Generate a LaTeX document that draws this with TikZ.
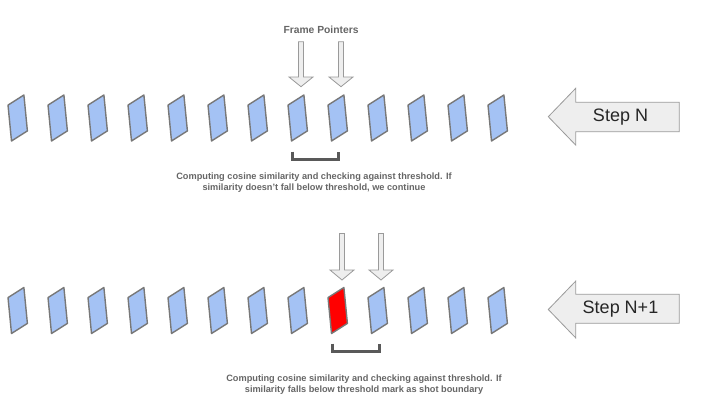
\documentclass[tikz,border=0pt]{standalone}
\usepackage{fontspec}
\setmainfont{Liberation Sans}
\definecolor{frameblue}{HTML}{A4C2F4}
\definecolor{framered}{HTML}{FF0000}
\definecolor{frameedge}{HTML}{787878}
\definecolor{arrowfill}{HTML}{EEEEEE}
\definecolor{arrowedge}{HTML}{9A9A9A}
\definecolor{bracketcol}{HTML}{595959}
\definecolor{captioncol}{HTML}{666666}
\tikzset{
  framebox/.style={draw=frameedge, line width=1.4pt, fill=frameblue, line join=round},
  redbox/.style={framebox, fill=framered},
  blockarrow/.style={draw=arrowedge, line width=0.8pt, fill=arrowfill, line join=miter},
  bracketline/.style={draw=bracketcol, line width=3pt},
  captiontext/.style={text=captioncol, font=\bfseries\fontsize{9.2}{11}\selectfont, align=center, inner sep=0pt},
  steptext/.style={text=black!85, font=\fontsize{18}{20}\selectfont, inner sep=0pt},
}
\begin{document}
\begin{tikzpicture}[x=1pt,y=-1pt]
\useasboundingbox (0,0) rectangle (711,404);
\fill[white] (0,0) rectangle (711,404);

% ---------- Row 1 ----------
\foreach \i in {0,...,12} {
  \coordinate (r1f\i) at ({17.7+40*\i},118);
  \draw[framebox, shift={(r1f\i)}] (-9.7,-12.9) -- (6.2,-23) -- (9.7,12.9) -- (-6.2,23) -- cycle;
}
\node[text=captioncol, font=\bfseries\fontsize{10.3}{12}\selectfont, inner sep=0pt] (fp) at (321,30) {Frame Pointers};
\foreach \n/\cx in {p1/301, p2/341} {
  \coordinate (\n) at (\cx,41.7);
  \draw[blockarrow, shift={(\n)}] (-2.5,0) -- (2.5,0) -- (2.5,35.3) -- (12,35.3) -- (0,45) -- (-12,35.3) -- (-2.5,35.3) -- cycle;
}
\coordinate (b1a) at (292.3,151.5);
\coordinate (b1b) at (338.7,151.5);
\draw[bracketline] (b1a) -- ++(0,7.7) -| (b1b);
\node[captiontext] (cap1) at (314,182.5) {Computing cosine similarity and checking against threshold. If\\similarity doesn't fall below threshold, we continue};

\coordinate (s1) at (548.3,116.7);
\draw[blockarrow, shift={(s1)}] (0,0) -- (27.4,-28.4) -- (27.4,-14.4) -- (131,-14.4) -- (131,15) -- (27.4,15) -- (27.4,28.4) -- cycle;
\node[steptext] (stepn) at (620.5,117) {Step N};

% ---------- Row 2 ----------
\foreach \i in {0,...,12} {
  \coordinate (r2f\i) at ({17.7+40*\i},310.5);
  \ifnum\i=8
    \draw[redbox, shift={(r2f\i)}] (-9.7,-12.9) -- (6.2,-23) -- (9.7,12.9) -- (-6.2,23) -- cycle;
  \else
    \draw[framebox, shift={(r2f\i)}] (-9.7,-12.9) -- (6.2,-23) -- (9.7,12.9) -- (-6.2,23) -- cycle;
  \fi
}
\foreach \n/\cx in {q1/342, q2/381} {
  \coordinate (\n) at (\cx,233.5);
  \draw[blockarrow, shift={(\n)}] (-2.5,0) -- (2.5,0) -- (2.5,36.5) -- (12,36.5) -- (0,46.5) -- (-12,36.5) -- (-2.5,36.5) -- cycle;
}
\coordinate (b2a) at (332.2,343.5);
\coordinate (b2b) at (379.2,343.5);
\draw[bracketline] (b2a) -- ++(0,8.3) -| (b2b);
\node[captiontext] (cap2) at (364,384.5) {Computing cosine similarity and checking against threshold. If\\similarity falls below threshold mark as shot boundary};

\coordinate (s2) at (548.3,309.5);
\draw[blockarrow, shift={(s2)}] (0,0) -- (27.4,-28.4) -- (27.4,-15.2) -- (131,-15.2) -- (131,13.8) -- (27.4,13.8) -- (27.4,28.4) -- cycle;
\node[steptext] (stepn1) at (620.5,309) {Step N+1};
\end{tikzpicture}
\end{document}
